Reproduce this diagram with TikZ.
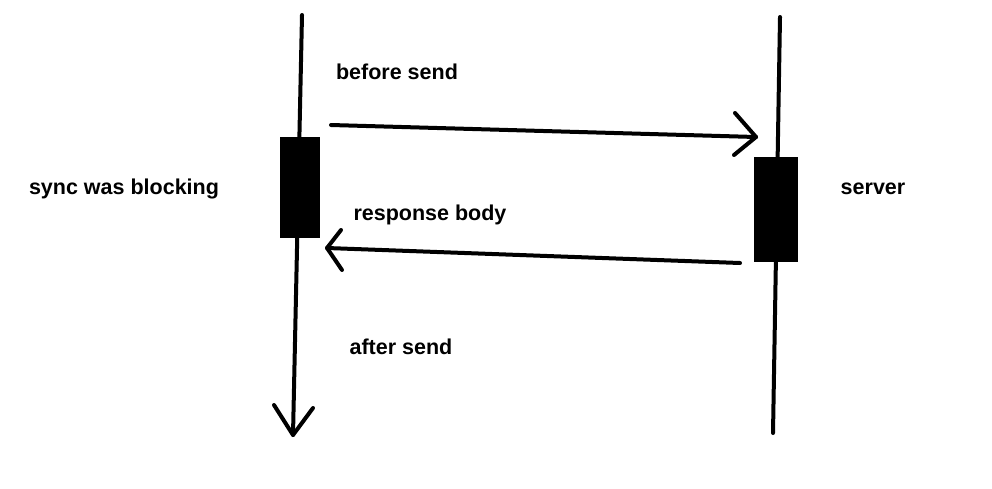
\documentclass[tikz,border=0pt]{standalone}
\usepackage{fontspec}
\setmainfont{Liberation Sans}
\begin{document}
\begin{tikzpicture}[x=1pt,y=-1pt,
  ln/.style={line width=4pt,line cap=round},
  act/.style={fill=black,draw=none},
  lbl/.style={font=\fontsize{21.5}{24}\selectfont\bfseries,inner sep=0pt}]
\useasboundingbox (0,0) rectangle (992,488);
% lifelines
\coordinate (lt) at (302,15);
\coordinate (lb) at (293,435);
\coordinate (rt) at (780,17);
\coordinate (rb) at (773,433);
\draw[ln] (lt) -- (lb);
\draw[ln] (rt) -- (rb);
% activation boxes
\node[act,minimum width=40pt,minimum height=101pt,inner sep=0pt] (lbox) at (300,187.5) {};
\node[act,minimum width=44pt,minimum height=105pt,inner sep=0pt] (rbox) at (776,209.5) {};
% bottom arrowhead
\coordinate (la1) at (274,405);
\coordinate (la2) at (313,408);
\draw[ln,line join=round] (la1) -- (lb) -- (la2);
% request arrow
\coordinate (q0) at (331,125);
\coordinate (q1) at (756,137);
\coordinate (qa1) at (735,113);
\coordinate (qa2) at (734,155);
\draw[ln] (q0) -- (q1);
\draw[ln,line join=round] (qa1) -- (q1) -- (qa2);
% response arrow
\coordinate (p0) at (740,263);
\coordinate (p1) at (327,248);
\coordinate (pa1) at (341,230);
\coordinate (pa2) at (342,270);
\draw[ln] (p0) -- (p1);
\draw[ln,line join=round] (pa1) -- (p1) -- (pa2);
% labels
\node[lbl] (t1) at (397,72) {before send};
\node[lbl] (t2) at (430,214.5) {response body};
\node[lbl] (t3) at (401,347) {after send};
\node[lbl] (t4) at (124,188.5) {sync was blocking};
\node[lbl] (t5) at (873,188.5) {server};
\end{tikzpicture}
\end{document}
